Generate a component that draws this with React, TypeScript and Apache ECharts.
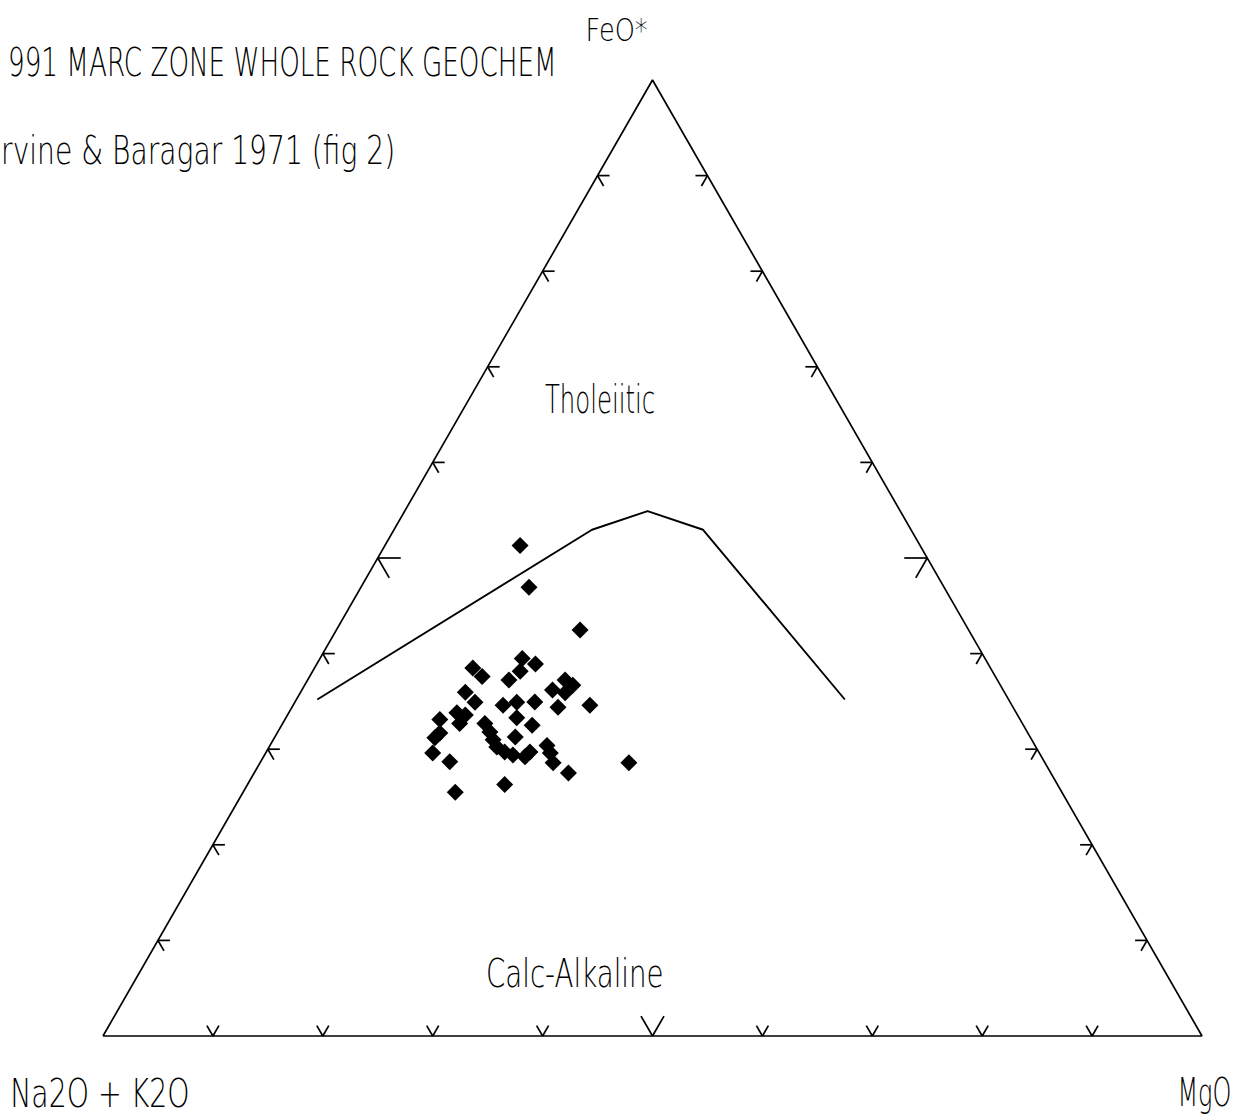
import React, { useEffect, useRef } from "react";
import * as echarts from "echarts";

// ---- Data (ternary compositions, wt% normalised: Na2O+K2O, FeO*, MgO) ----
const SAMPLE_ALK = [36.4, 37.8, 35.4, 37.9, 42.1, 41.2, 47.1, 46.7, 43.0, 44.4, 49.1, 39.3, 38.9, 41.0, 40.0, 38.4, 41.4, 48.7, 46.3, 44.9, 43.2, 50.9, 50.3, 51.2, 52.8, 45.7, 44.7, 48.9, 48.9, 49.0, 49.0, 48.6, 48.0, 47.0, 46.3, 46.9, 53.5, 54.2, 55.2, 54.1, 44.4, 44.5, 44.8, 43.9, 55.2, 50.3];
const SAMPLE_FEO = [51.3, 47.0, 42.5, 28.6, 39.5, 38.9, 38.5, 37.6, 38.2, 37.2, 36.0, 37.2, 36.7, 36.2, 35.9, 34.6, 34.4, 34.9, 34.6, 34.9, 34.9, 33.8, 33.6, 32.7, 33.1, 33.3, 32.5, 32.7, 31.8, 31.0, 30.2, 29.7, 29.4, 29.2, 29.7, 31.3, 31.7, 31.2, 29.6, 28.7, 30.4, 29.6, 28.6, 27.5, 25.5, 26.3];
const SAMPLE_MGO = [12.3, 15.3, 22.2, 33.6, 18.4, 19.9, 14.4, 15.7, 18.9, 18.3, 15.0, 23.4, 24.4, 22.8, 24.1, 27.0, 24.2, 16.4, 19.1, 20.2, 21.8, 15.3, 16.2, 16.1, 14.1, 21.0, 22.8, 18.4, 19.3, 20.0, 20.7, 21.7, 22.6, 23.8, 24.0, 21.9, 14.8, 14.6, 15.2, 17.2, 25.2, 25.9, 26.7, 28.6, 19.3, 23.4];

// Irvine & Baragar (1971) tholeiitic / calc-alkaline boundary
const BOUNDARY_ALK = [62.9, 29.0, 23.0, 18.9, 14.9];
const BOUNDARY_FEO = [35.2, 52.9, 54.9, 52.9, 35.2];
const BOUNDARY_MGO = [1.9, 18.0, 22.1, 28.1, 49.9];

// Triangle corners (A, F, M)
const CORNER_ALK = [100, 0, 0, 100];
const CORNER_FEO = [0, 0, 100, 0];
const CORNER_MGO = [0, 100, 0, 0];

const TICKS = [10, 20, 30, 40, 50, 60, 70, 80, 90];
const MAJOR_TICK = 50;

const TITLE_LINES = ["991 MARC ZONE WHOLE ROCK GEOCHEM", "rvine & Baragar 1971 (fig 2)"];
const APEX_LABELS = ["FeO*", "Na2O + K2O", "MgO"];
const FIELD_LABELS = ["Tholeiitic", "Calc-Alkaline"];

// ternary -> cartesian (x: 0..100 from A corner to M corner, y: FeO*)
function toXY(a: number, f: number, m: number): [number, number] {
  const s = a + f + m;
  const F = (f / s) * 100;
  const M = (m / s) * 100;
  return [M + F / 2, F];
}

const FONT_FAMILY = "'DejaVu Sans', 'Liberation Sans', sans-serif";
const FONT_WEIGHT = 200;

type TextBox = { text: string; x0: number; x1: number; capTop: number; base: number };

function fitText(b: TextBox) {
  const canvas = document.createElement("canvas");
  const ctx = canvas.getContext("2d") as CanvasRenderingContext2D;
  const probe = 100;
  ctx.textBaseline = "alphabetic";
  ctx.font = `${FONT_WEIGHT} ${probe}px ${FONT_FAMILY}`;
  const capRatio = ctx.measureText("H").actualBoundingBoxAscent / probe || 0.73;
  const fontSize = (b.base - b.capTop) / capRatio;
  ctx.font = `${FONT_WEIGHT} ${fontSize}px ${FONT_FAMILY}`;
  ctx.textBaseline = "middle";
  const m = ctx.measureText(b.text);
  const inkW = m.actualBoundingBoxLeft + m.actualBoundingBoxRight;
  const scaleX = (b.x1 - b.x0) / inkW;
  const capAboveMid = ctx.measureText("H").actualBoundingBoxAscent;
  return {
    type: "text",
    x: b.x0 + m.actualBoundingBoxLeft * scaleX,
    y: b.capTop + capAboveMid,
    scaleX,
    silent: true,
    style: {
      text: b.text,
      fontSize,
      fontFamily: FONT_FAMILY,
      fontWeight: FONT_WEIGHT,
      fill: "#000",
      align: "left",
      verticalAlign: "middle",
    },
  };
}

export default function App() {
  const ref = useRef<HTMLDivElement>(null);
  useEffect(() => {
    if (!ref.current) return;
    const chart = echarts.init(ref.current, null, { renderer: "svg" });

    const samples = SAMPLE_ALK.map((a, i) => toXY(a, SAMPLE_FEO[i], SAMPLE_MGO[i]));
    const boundary = BOUNDARY_ALK.map((a, i) => toXY(a, BOUNDARY_FEO[i], BOUNDARY_MGO[i]));
    const frame = CORNER_ALK.map((a, i) => toXY(a, CORNER_FEO[i], CORNER_MGO[i]));
    const tickData: number[][] = [];
    [0, 1, 2].forEach((e) => TICKS.forEach((t) => tickData.push([e, t])));

    const boxes: TextBox[] = [
      { text: TITLE_LINES[0], x0: 10, x1: 553, capTop: 44, base: 73 },
      { text: TITLE_LINES[1], x0: 4, x1: 393, capTop: 132, base: 160 },
      { text: APEX_LABELS[0], x0: 588, x1: 647, capTop: 15, base: 38 },
      { text: APEX_LABELS[1], x0: 13, x1: 188, capTop: 1074, base: 1103 },
      { text: APEX_LABELS[2], x0: 1181, x1: 1230, capTop: 1074, base: 1103 },
      { text: FIELD_LABELS[0], x0: 545, x1: 654, capTop: 380, base: 409 },
      { text: FIELD_LABELS[1], x0: 488, x1: 662, capTop: 954, base: 983 },
    ];

    chart.setOption({
      animation: false,
      backgroundColor: "#fff",
      grid: { left: 103, top: 80, width: 1099, height: 956, show: false },
      xAxis: { type: "value", min: 0, max: 100, show: false },
      yAxis: { type: "value", min: 0, max: 100, show: false },
      graphic: boxes.map(fitText),
      series: [
        {
          type: "line",
          data: frame,
          symbol: "none",
          clip: false,
          lineStyle: { color: "#000", width: 1.7 },
          silent: true,
        },
        {
          type: "custom",
          data: tickData,
          clip: false,
          silent: true,
          renderItem: (_p: any, api: any) => {
            const edge = api.value(0);
            const t = api.value(1);
            let p: [number, number];
            if (edge === 0) p = toXY(100 - t, 0, t);
            else if (edge === 1) p = toXY(100 - t, t, 0);
            else p = toXY(0, t, 100 - t);
            const [px, py] = api.coord(p);
            const L = t === MAJOR_TICK ? 23 : 12;
            const dirs =
              edge === 0
                ? [[-0.5, -0.866], [0.5, -0.866]]
                : edge === 1
                ? [[1, 0], [0.5, 0.866]]
                : [[-1, 0], [-0.5, 0.866]];
            return {
              type: "group",
              children: dirs.map((d) => ({
                type: "line",
                shape: { x1: px, y1: py, x2: px + d[0] * L, y2: py + d[1] * L },
                style: { stroke: "#000", lineWidth: 1.7 },
              })),
            };
          },
        },
        {
          type: "line",
          data: boundary,
          symbol: "none",
          clip: false,
          lineStyle: { color: "#000", width: 1.9 },
          silent: true,
        },
        {
          type: "scatter",
          data: samples,
          symbol: "diamond",
          symbolSize: 17,
          itemStyle: { color: "#000", opacity: 1 },
          silent: true,
        },
      ],
    });
    return () => chart.dispose();
  }, []);
  return (
    <div
      ref={ref}
      style={{ position: "absolute", left: 0, top: 0, width: 1238, height: 1119 }}
    />
  );
}
